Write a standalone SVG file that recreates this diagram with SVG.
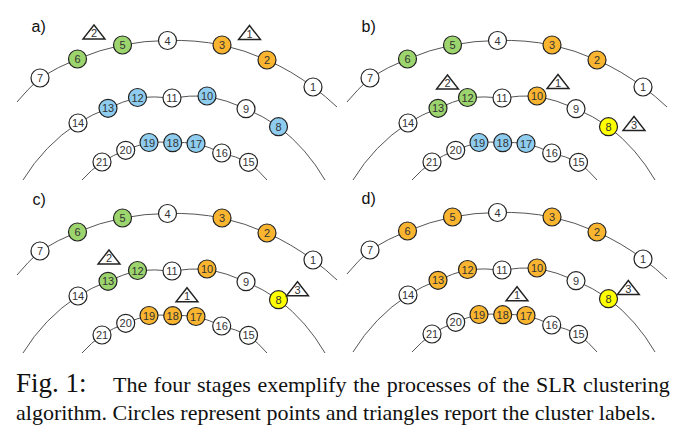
<svg xmlns="http://www.w3.org/2000/svg" xmlns:xlink="http://www.w3.org/1999/xlink" width="682" height="440" viewBox="0 0 682 440">
<style>
.node circle{fill:#fff;stroke:#222;stroke-width:1.2}
.node text,.tri text{font-family:"Liberation Sans",Arial,sans-serif;font-size:11px;fill:#333;text-anchor:middle}
.g circle{fill:#9cd46e}
.o circle{fill:#f9b52f}
.b circle{fill:#8ecdf0}
.y circle{fill:#ffff00}
.arc{fill:none;stroke:#555;stroke-width:1}
.tri use{fill:#fff;stroke:#222;stroke-width:1.4;stroke-linejoin:miter}
.lbl{font-family:"Liberation Sans",Arial,sans-serif;font-size:16px;fill:#111}
.cap{font-family:"Liberation Serif","Times New Roman",serif;fill:#111}
</style>
<defs>
<path id="arcOuter" class="arc" d="M17,102 A237,237 0 0 1 40,78 A237,237 0 0 1 77.5,59 A237,237 0 0 1 122.5,45 A237,237 0 0 1 167.5,40.5 A237,237 0 0 1 222,45 A237,237 0 0 1 267,60 A237,237 0 0 1 313,87 A237,237 0 0 1 337,107"/>
<path id="arcMiddle" class="arc" d="M23,180 A183,183 0 0 1 78,123 A183,183 0 0 1 108,108.3 A183,183 0 0 1 137.5,97.5 A183,183 0 0 1 172,98 A183,183 0 0 1 207,96 A183,183 0 0 1 246,108.7 A183,183 0 0 1 278.5,126.7 A183,183 0 0 1 325,180"/>
<path id="arcInner" class="arc" d="M82,180 A134,134 0 0 1 102,162 A134,134 0 0 1 125.7,150.3 A134,134 0 0 1 149,142.5 A134,134 0 0 1 172.7,142.7 A134,134 0 0 1 196,143.5 A134,134 0 0 1 221.7,153 A134,134 0 0 1 248.5,162.3 A134,134 0 0 1 267,180"/>
<path id="triShape" d="M-11,7 L11,7 L0,-7 Z"/>
</defs>

<!-- Panel a -->
<g id="panel-a">
<text class="lbl" x="31.5" y="31.5">a)</text>
<g id="a-connectors"><use href="#arcOuter"/><use href="#arcMiddle"/><use href="#arcInner"/></g>
<g id="a-n7" class="node" transform="translate(40,78)"><circle r="9"/><text y="4">7</text></g>
<g id="a-n6" class="node g" transform="translate(77.5,59)"><circle r="9"/><text y="4">6</text></g>
<g id="a-n5" class="node g" transform="translate(122.5,45)"><circle r="9"/><text y="4">5</text></g>
<g id="a-n4" class="node" transform="translate(167.5,40.5)"><circle r="9"/><text y="4">4</text></g>
<g id="a-n3" class="node o" transform="translate(222,45)"><circle r="9"/><text y="4">3</text></g>
<g id="a-n2" class="node o" transform="translate(267,60)"><circle r="9"/><text y="4">2</text></g>
<g id="a-n1" class="node" transform="translate(313,87)"><circle r="9"/><text y="4">1</text></g>
<g id="a-n14" class="node" transform="translate(78,123)"><circle r="9"/><text y="4">14</text></g>
<g id="a-n13" class="node b" transform="translate(108,108.3)"><circle r="9"/><text y="4">13</text></g>
<g id="a-n12" class="node b" transform="translate(137.5,97.5)"><circle r="9"/><text y="4">12</text></g>
<g id="a-n11" class="node" transform="translate(172,98)"><circle r="9"/><text y="4">11</text></g>
<g id="a-n10" class="node b" transform="translate(207,96)"><circle r="9"/><text y="4">10</text></g>
<g id="a-n9" class="node" transform="translate(246,108.7)"><circle r="9"/><text y="4">9</text></g>
<g id="a-n8" class="node b" transform="translate(278.5,126.7)"><circle r="9"/><text y="4">8</text></g>
<g id="a-n21" class="node" transform="translate(102,162)"><circle r="9"/><text y="4">21</text></g>
<g id="a-n20" class="node" transform="translate(125.7,150.3)"><circle r="9"/><text y="4">20</text></g>
<g id="a-n19" class="node b" transform="translate(149,142.5)"><circle r="9"/><text y="4">19</text></g>
<g id="a-n18" class="node b" transform="translate(172.7,142.7)"><circle r="9"/><text y="4">18</text></g>
<g id="a-n17" class="node b" transform="translate(196,143.5)"><circle r="9"/><text y="4">17</text></g>
<g id="a-n16" class="node" transform="translate(221.7,153)"><circle r="9"/><text y="4">16</text></g>
<g id="a-n15" class="node" transform="translate(248.5,162.3)"><circle r="9"/><text y="4">15</text></g>
<g id="a-t2" class="tri" transform="translate(94,32)"><use href="#triShape"/><text y="5">2</text></g>
<g id="a-t1" class="tri" transform="translate(249.5,32.5)"><use href="#triShape"/><text y="5">1</text></g>
</g>

<!-- Panel b -->
<g id="panel-b" transform="translate(330,0)">
<text class="lbl" x="31.5" y="31.5">b)</text>
<g id="b-connectors"><use href="#arcOuter"/><use href="#arcMiddle"/><use href="#arcInner"/></g>
<g id="b-n7" class="node" transform="translate(40,78)"><circle r="9"/><text y="4">7</text></g>
<g id="b-n6" class="node g" transform="translate(77.5,59)"><circle r="9"/><text y="4">6</text></g>
<g id="b-n5" class="node g" transform="translate(122.5,45)"><circle r="9"/><text y="4">5</text></g>
<g id="b-n4" class="node" transform="translate(167.5,40.5)"><circle r="9"/><text y="4">4</text></g>
<g id="b-n3" class="node o" transform="translate(222,45)"><circle r="9"/><text y="4">3</text></g>
<g id="b-n2" class="node o" transform="translate(267,60)"><circle r="9"/><text y="4">2</text></g>
<g id="b-n1" class="node" transform="translate(313,87)"><circle r="9"/><text y="4">1</text></g>
<g id="b-n14" class="node" transform="translate(78,123)"><circle r="9"/><text y="4">14</text></g>
<g id="b-n13" class="node g" transform="translate(108,108.3)"><circle r="9"/><text y="4">13</text></g>
<g id="b-n12" class="node g" transform="translate(137.5,97.5)"><circle r="9"/><text y="4">12</text></g>
<g id="b-n11" class="node" transform="translate(172,98)"><circle r="9"/><text y="4">11</text></g>
<g id="b-n10" class="node o" transform="translate(207,96)"><circle r="9"/><text y="4">10</text></g>
<g id="b-n9" class="node" transform="translate(246,108.7)"><circle r="9"/><text y="4">9</text></g>
<g id="b-n8" class="node y" transform="translate(278.5,126.7)"><circle r="9"/><text y="4">8</text></g>
<g id="b-n21" class="node" transform="translate(102,162)"><circle r="9"/><text y="4">21</text></g>
<g id="b-n20" class="node" transform="translate(125.7,150.3)"><circle r="9"/><text y="4">20</text></g>
<g id="b-n19" class="node b" transform="translate(149,142.5)"><circle r="9"/><text y="4">19</text></g>
<g id="b-n18" class="node b" transform="translate(172.7,142.7)"><circle r="9"/><text y="4">18</text></g>
<g id="b-n17" class="node b" transform="translate(196,143.5)"><circle r="9"/><text y="4">17</text></g>
<g id="b-n16" class="node" transform="translate(221.7,153)"><circle r="9"/><text y="4">16</text></g>
<g id="b-n15" class="node" transform="translate(248.5,162.3)"><circle r="9"/><text y="4">15</text></g>
<g id="b-t2" class="tri" transform="translate(117.5,82)"><use href="#triShape"/><text y="5">2</text></g>
<g id="b-t1" class="tri" transform="translate(228,81.5)"><use href="#triShape"/><text y="5">1</text></g>
<g id="b-t3" class="tri" transform="translate(304,123.5)"><use href="#triShape"/><text y="5">3</text></g>
</g>

<!-- Panel c -->
<g id="panel-c" transform="translate(0,173)">
<text class="lbl" x="32.5" y="32">c)</text>
<g id="c-connectors"><use href="#arcOuter"/><use href="#arcMiddle"/><use href="#arcInner"/></g>
<g id="c-n7" class="node" transform="translate(40,78)"><circle r="9"/><text y="4">7</text></g>
<g id="c-n6" class="node g" transform="translate(77.5,59)"><circle r="9"/><text y="4">6</text></g>
<g id="c-n5" class="node g" transform="translate(122.5,45)"><circle r="9"/><text y="4">5</text></g>
<g id="c-n4" class="node" transform="translate(167.5,40.5)"><circle r="9"/><text y="4">4</text></g>
<g id="c-n3" class="node o" transform="translate(222,45)"><circle r="9"/><text y="4">3</text></g>
<g id="c-n2" class="node o" transform="translate(267,60)"><circle r="9"/><text y="4">2</text></g>
<g id="c-n1" class="node" transform="translate(313,87)"><circle r="9"/><text y="4">1</text></g>
<g id="c-n14" class="node" transform="translate(78,123)"><circle r="9"/><text y="4">14</text></g>
<g id="c-n13" class="node g" transform="translate(108,108.3)"><circle r="9"/><text y="4">13</text></g>
<g id="c-n12" class="node g" transform="translate(137.5,97.5)"><circle r="9"/><text y="4">12</text></g>
<g id="c-n11" class="node" transform="translate(172,98)"><circle r="9"/><text y="4">11</text></g>
<g id="c-n10" class="node o" transform="translate(207,96)"><circle r="9"/><text y="4">10</text></g>
<g id="c-n9" class="node" transform="translate(246,108.7)"><circle r="9"/><text y="4">9</text></g>
<g id="c-n8" class="node y" transform="translate(278.5,126.7)"><circle r="9"/><text y="4">8</text></g>
<g id="c-n21" class="node" transform="translate(102,162)"><circle r="9"/><text y="4">21</text></g>
<g id="c-n20" class="node" transform="translate(125.7,150.3)"><circle r="9"/><text y="4">20</text></g>
<g id="c-n19" class="node o" transform="translate(149,142.5)"><circle r="9"/><text y="4">19</text></g>
<g id="c-n18" class="node o" transform="translate(172.7,142.7)"><circle r="9"/><text y="4">18</text></g>
<g id="c-n17" class="node o" transform="translate(196,143.5)"><circle r="9"/><text y="4">17</text></g>
<g id="c-n16" class="node" transform="translate(221.7,153)"><circle r="9"/><text y="4">16</text></g>
<g id="c-n15" class="node" transform="translate(248.5,162.3)"><circle r="9"/><text y="4">15</text></g>
<g id="c-t2" class="tri" transform="translate(109,84)"><use href="#triShape"/><text y="5">2</text></g>
<g id="c-t1" class="tri" transform="translate(187,121.7)"><use href="#triShape"/><text y="5">1</text></g>
<g id="c-t3" class="tri" transform="translate(297.5,115.7)"><use href="#triShape"/><text y="5">3</text></g>
</g>

<!-- Panel d -->
<g id="panel-d" transform="translate(330,172)">
<text class="lbl" x="31.5" y="32">d)</text>
<g id="d-connectors"><use href="#arcOuter"/><use href="#arcMiddle"/><use href="#arcInner"/></g>
<g id="d-n7" class="node" transform="translate(40,78)"><circle r="9"/><text y="4">7</text></g>
<g id="d-n6" class="node o" transform="translate(77.5,59)"><circle r="9"/><text y="4">6</text></g>
<g id="d-n5" class="node o" transform="translate(122.5,45)"><circle r="9"/><text y="4">5</text></g>
<g id="d-n4" class="node" transform="translate(167.5,40.5)"><circle r="9"/><text y="4">4</text></g>
<g id="d-n3" class="node o" transform="translate(222,45)"><circle r="9"/><text y="4">3</text></g>
<g id="d-n2" class="node o" transform="translate(267,60)"><circle r="9"/><text y="4">2</text></g>
<g id="d-n1" class="node" transform="translate(313,87)"><circle r="9"/><text y="4">1</text></g>
<g id="d-n14" class="node" transform="translate(78,123)"><circle r="9"/><text y="4">14</text></g>
<g id="d-n13" class="node o" transform="translate(108,108.3)"><circle r="9"/><text y="4">13</text></g>
<g id="d-n12" class="node o" transform="translate(137.5,97.5)"><circle r="9"/><text y="4">12</text></g>
<g id="d-n11" class="node" transform="translate(172,98)"><circle r="9"/><text y="4">11</text></g>
<g id="d-n10" class="node o" transform="translate(207,96)"><circle r="9"/><text y="4">10</text></g>
<g id="d-n9" class="node" transform="translate(246,108.7)"><circle r="9"/><text y="4">9</text></g>
<g id="d-n8" class="node y" transform="translate(278.5,126.7)"><circle r="9"/><text y="4">8</text></g>
<g id="d-n21" class="node" transform="translate(102,162)"><circle r="9"/><text y="4">21</text></g>
<g id="d-n20" class="node" transform="translate(125.7,150.3)"><circle r="9"/><text y="4">20</text></g>
<g id="d-n19" class="node o" transform="translate(149,142.5)"><circle r="9"/><text y="4">19</text></g>
<g id="d-n18" class="node o" transform="translate(172.7,142.7)"><circle r="9"/><text y="4">18</text></g>
<g id="d-n17" class="node o" transform="translate(196,143.5)"><circle r="9"/><text y="4">17</text></g>
<g id="d-n16" class="node" transform="translate(221.7,153)"><circle r="9"/><text y="4">16</text></g>
<g id="d-n15" class="node" transform="translate(248.5,162.3)"><circle r="9"/><text y="4">15</text></g>
<g id="d-t3" class="tri" transform="translate(298.3,115.5)"><use href="#triShape"/><text y="5">3</text></g>
<g id="d-t1" class="tri" transform="translate(187,121.7)"><use href="#triShape"/><text y="5">1</text></g>
</g>

<!-- Caption -->
<g id="caption">
<text class="cap" x="16" y="391.5" font-size="27">Fig. 1:</text>
<text class="cap" x="113" y="391.5" font-size="22" word-spacing="1.1">The four stages exemplify the processes of the SLR clustering</text>
<text class="cap" x="16" y="419.5" font-size="22">algorithm. Circles represent points and triangles report the cluster labels.</text>
</g>
</svg>
